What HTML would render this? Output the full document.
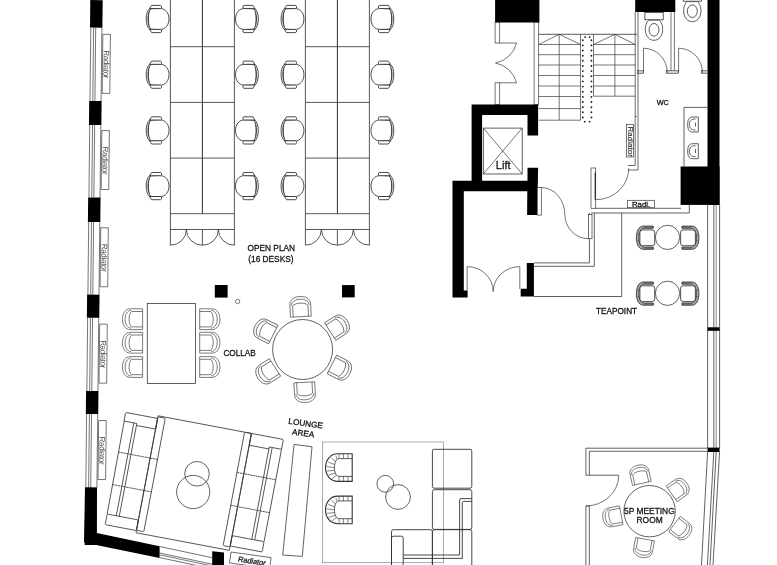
<!DOCTYPE html>
<html><head><meta charset="utf-8"><style>
html,body{margin:0;padding:0;background:#fff;width:777px;height:565px;overflow:hidden}
svg{display:block;font-family:"Liberation Sans",sans-serif;will-change:transform}
text{stroke:#1a1a1a;stroke-width:0.28;paint-order:stroke}
</style></head><body><svg width="777" height="565" viewBox="0 0 777 565" font-family="Liberation Sans, sans-serif" fill="#111">
<defs>
 <g id="c1" fill="#fff" stroke="#2a2a2a" stroke-width="0.85">
  <path d="M-7.6,-10.2 L2,-10.6 C8.5,-10.6 11.6,-5.5 11.6,0 C11.6,5.5 8.5,10.6 2,10.6 L-7.6,10.2 C-9.4,6 -9.4,-6 -7.6,-10.2 Z"/>
  <path d="M-7.6,-10.6 C-12.4,-7 -12.4,7 -7.6,10.6 L-6.6,10.2 C-10.4,6.5 -10.4,-6.5 -6.6,-10.2 Z"/>
  <path d="M-7.8,-10.4 L-5.8,-13.6 L3.2,-13.6 C4.6,-13.6 4.6,-10.4 3.2,-10.4 Z"/>
  <path d="M-7.8,10.4 L-5.8,13.6 L3.2,13.6 C4.6,13.6 4.6,10.4 3.2,10.4 Z"/>
 </g>
 <g id="c2" fill="#fff" stroke="#444" stroke-width="0.7">
  <path d="M-2.1,-10.4 L10.1,-10.4 L10.1,10.4 L-2.1,10.4 C-7.5,10.4 -10.1,5.5 -10.1,0 C-10.1,-5.5 -7.5,-10.4 -2.1,-10.4 Z"/>
  <path d="M-1.3,-9 C-5.5,-8.5 -7.4,-4.5 -7.4,0 C-7.4,4.5 -5.5,8.5 -1.3,9" fill="none"/>
  <path d="M-1,-7.7 L10.1,-7.7 M-1,7.7 L10.1,7.7 M-1,-7.7 C-2.8,-6 -3.4,-3 -3.4,0 C-3.4,3 -2.8,6 -1,7.7" fill="none"/>
 </g>
 <g id="c3" fill="#fff" stroke="#222" stroke-width="0.8">
  <path d="M7.8,-11.6 L-2,-11.6 C-7,-11.6 -9.1,-6 -9.1,0 C-9.1,6 -7,11.6 -2,11.6 L7.8,11.6 L7.8,9.4 L-1.5,9.4 C-5,9.4 -6.6,5 -6.6,0 C-6.6,-5 -5,-9.4 -1.5,-9.4 L7.8,-9.4 Z" fill="#aaa"/>
  <path d="M-2,-10.5 L7.8,-10.5 M-2,10.5 L7.8,10.5 M-8,-3 L-6.6,-3 M-8,3 L-6.6,3" fill="none" stroke-width="0.5"/>
  <rect x="-5.6" y="-7.8" width="14.8" height="15.8" rx="2.6"/>
 </g>
 <g id="tub" fill="#fff" stroke="#333" stroke-width="0.8">
  <path d="M13.3,-13.8 L-1,-13.8 C-9,-13.8 -13.4,-7 -13.4,0 C-13.4,7 -9,13.8 -1,13.8 L13.3,13.8 Z" stroke-width="1.1"/>
  <path d="M13.3,-9 L0.5,-9 C-3,-9 -4.4,-5 -4.4,0 C-4.4,5 -3,8.8 0.5,8.8 L13.3,8.8" fill="none"/>
  <path d="M0.2,-13.8 L0.2,-9 M4.5,-13.8 L4.5,-9 M9.1,-13.8 L9.1,-9 M0.2,13.8 L0.2,8.8 M4.5,13.8 L4.5,8.8 M9.1,13.8 L9.1,8.8 M-3,-11.8 L-1.8,-8.5 M-7.5,-9.5 L-3.6,-6.2 M-10.6,-5.5 L-4.2,-3 M-12.4,-1 L-4.4,0 M-12,3.5 L-4.3,2.6 M-10.4,7.5 L-3.8,5.5 M-7,11 L-2.6,7.8" fill="none" stroke-width="0.6"/>
 </g>
 <g id="sink" fill="#fff" stroke="#333" stroke-width="0.8">
  <path d="M5.3,-7.5 L0,-7.5 C-4.5,-7.5 -5.3,-4 -5.3,0 C-5.3,4 -4.5,7.5 0,7.5 L5.3,7.5 Z"/>
  <path d="M2.5,-5.5 C-2.5,-5.5 -3.6,-3 -3.6,0 C-3.6,3 -2.5,5.5 2.5,5.5 M2.5,-2 L2.5,2" fill="none"/>
 </g>
</defs>
<g transform="rotate(0.62 90.8 0)">
<rect x="90.3" y="0" width="12.40" height="27.50" fill="#000"/>
<rect x="90.3" y="101" width="12.40" height="24.00" fill="#000"/>
<rect x="90.3" y="197.5" width="12.40" height="24.50" fill="#000"/>
<rect x="90.3" y="294.6" width="12.40" height="23.10" fill="#000"/>
<rect x="90.3" y="391" width="12.40" height="23.00" fill="#000"/>
<line x1="91.1" y1="27.5" x2="91.1" y2="101" stroke="#3a3a3a" stroke-width="0.7"/>
<line x1="93.89999999999999" y1="27.5" x2="93.89999999999999" y2="101" stroke="#3a3a3a" stroke-width="0.7"/>
<line x1="96.0" y1="27.5" x2="96.0" y2="101" stroke="#3a3a3a" stroke-width="0.7"/>
<line x1="102.2" y1="27.5" x2="102.2" y2="101" stroke="#3a3a3a" stroke-width="0.7"/>
<line x1="91.1" y1="125" x2="91.1" y2="197.5" stroke="#3a3a3a" stroke-width="0.7"/>
<line x1="93.89999999999999" y1="125" x2="93.89999999999999" y2="197.5" stroke="#3a3a3a" stroke-width="0.7"/>
<line x1="96.0" y1="125" x2="96.0" y2="197.5" stroke="#3a3a3a" stroke-width="0.7"/>
<line x1="102.2" y1="125" x2="102.2" y2="197.5" stroke="#3a3a3a" stroke-width="0.7"/>
<line x1="91.1" y1="222" x2="91.1" y2="294.6" stroke="#3a3a3a" stroke-width="0.7"/>
<line x1="93.89999999999999" y1="222" x2="93.89999999999999" y2="294.6" stroke="#3a3a3a" stroke-width="0.7"/>
<line x1="96.0" y1="222" x2="96.0" y2="294.6" stroke="#3a3a3a" stroke-width="0.7"/>
<line x1="102.2" y1="222" x2="102.2" y2="294.6" stroke="#3a3a3a" stroke-width="0.7"/>
<line x1="91.1" y1="317.7" x2="91.1" y2="391" stroke="#3a3a3a" stroke-width="0.7"/>
<line x1="93.89999999999999" y1="317.7" x2="93.89999999999999" y2="391" stroke="#3a3a3a" stroke-width="0.7"/>
<line x1="96.0" y1="317.7" x2="96.0" y2="391" stroke="#3a3a3a" stroke-width="0.7"/>
<line x1="102.2" y1="317.7" x2="102.2" y2="391" stroke="#3a3a3a" stroke-width="0.7"/>
<line x1="91.1" y1="414" x2="91.1" y2="487.6" stroke="#3a3a3a" stroke-width="0.7"/>
<line x1="93.89999999999999" y1="414" x2="93.89999999999999" y2="487.6" stroke="#3a3a3a" stroke-width="0.7"/>
<line x1="96.0" y1="414" x2="96.0" y2="487.6" stroke="#3a3a3a" stroke-width="0.7"/>
<line x1="102.2" y1="414" x2="102.2" y2="487.6" stroke="#3a3a3a" stroke-width="0.7"/>
<rect x="90.6" y="487.6" width="11.70" height="57.40" fill="#000"/>
<rect x="103.2" y="34.2" width="7.60" height="59.00" fill="#fff" stroke="#3a3a3a" stroke-width="0.7" />
<text transform="translate(104.3,50.2) rotate(90)" font-size="8" letter-spacing="-0.3" fill="#444" style="stroke:none">Radiator</text>
<rect x="103.2" y="130.4" width="7.60" height="59.00" fill="#fff" stroke="#3a3a3a" stroke-width="0.7" />
<text transform="translate(104.3,146.4) rotate(90)" font-size="8" letter-spacing="-0.3" fill="#444" style="stroke:none">Radiator</text>
<rect x="103.2" y="227.6" width="7.60" height="59.00" fill="#fff" stroke="#3a3a3a" stroke-width="0.7" />
<text transform="translate(104.3,243.6) rotate(90)" font-size="8" letter-spacing="-0.3" fill="#444" style="stroke:none">Radiator</text>
<rect x="103.2" y="324" width="7.60" height="59.00" fill="#fff" stroke="#3a3a3a" stroke-width="0.7" />
<text transform="translate(104.3,340) rotate(90)" font-size="8" letter-spacing="-0.3" fill="#444" style="stroke:none">Radiator</text>
<rect x="103.2" y="420.4" width="7.60" height="59.00" fill="#fff" stroke="#3a3a3a" stroke-width="0.7" />
<text transform="translate(104.3,436.4) rotate(90)" font-size="8" letter-spacing="-0.3" fill="#444" style="stroke:none">Radiator</text>
</g>
<polygon points="85.00,487.60 96.80,487.60 96.80,533.00 159.60,546.30 159.60,558.00 84.00,542.40" fill="#000"/>
<line x1="159.6" y1="546.5" x2="212.2" y2="557.7" stroke="#3a3a3a" stroke-width="0.7"/>
<line x1="159.6" y1="553.0" x2="212.2" y2="564.2" stroke="#3a3a3a" stroke-width="0.7"/>
<line x1="159.6" y1="554.8" x2="212.2" y2="566.0" stroke="#3a3a3a" stroke-width="0.7"/>
<line x1="159.6" y1="557.5999999999999" x2="212.2" y2="568.8" stroke="#3a3a3a" stroke-width="0.7"/>
<polygon points="212.2,551.2 224,552.5 224,565 212.2,565" fill="#000"/>
<g transform="rotate(8 231 552)">
<rect x="231" y="552" width="40.50" height="11.00" fill="#fff" stroke="#3a3a3a" stroke-width="0.7" />
<text x="253" y="560.6" font-size="7.4" text-anchor="middle" transform="skewX(-8)" style="transform-box:fill-box;transform-origin:center">Radiator</text>
</g>
<line x1="170.4" y1="0" x2="170.4" y2="245.2" stroke="#3a3a3a" stroke-width="0.85"/>
<line x1="234.4" y1="0" x2="234.4" y2="245.2" stroke="#3a3a3a" stroke-width="0.85"/>
<line x1="202.4" y1="0" x2="202.4" y2="213.7" stroke="#222" stroke-width="0.95"/>
<line x1="202.4" y1="229.5" x2="202.4" y2="245.2" stroke="#3a3a3a" stroke-width="0.85"/>
<line x1="170.4" y1="46.7" x2="234.4" y2="46.7" stroke="#3a3a3a" stroke-width="0.85"/>
<line x1="170.4" y1="102.4" x2="234.4" y2="102.4" stroke="#3a3a3a" stroke-width="0.85"/>
<line x1="170.4" y1="158.1" x2="234.4" y2="158.1" stroke="#3a3a3a" stroke-width="0.85"/>
<line x1="170.4" y1="213.7" x2="234.4" y2="213.7" stroke="#3a3a3a" stroke-width="0.85"/>
<line x1="170.4" y1="229.5" x2="234.4" y2="229.5" stroke="#3a3a3a" stroke-width="0.85"/>
<path d="M170.4,245.2 A16,15.7 0 0 0 186.4,229.5 A16,15.7 0 0 0 202.4,245.2 A16,15.7 0 0 0 218.4,229.5 A16,15.7 0 0 0 234.4,245.2" fill="none" stroke="#3a3a3a" stroke-width="0.85" />
<line x1="305.4" y1="0" x2="305.4" y2="245.2" stroke="#3a3a3a" stroke-width="0.85"/>
<line x1="369.4" y1="0" x2="369.4" y2="245.2" stroke="#3a3a3a" stroke-width="0.85"/>
<line x1="337.4" y1="0" x2="337.4" y2="213.7" stroke="#222" stroke-width="0.95"/>
<line x1="337.4" y1="229.5" x2="337.4" y2="245.2" stroke="#3a3a3a" stroke-width="0.85"/>
<line x1="305.4" y1="46.7" x2="369.4" y2="46.7" stroke="#3a3a3a" stroke-width="0.85"/>
<line x1="305.4" y1="102.4" x2="369.4" y2="102.4" stroke="#3a3a3a" stroke-width="0.85"/>
<line x1="305.4" y1="158.1" x2="369.4" y2="158.1" stroke="#3a3a3a" stroke-width="0.85"/>
<line x1="305.4" y1="213.7" x2="369.4" y2="213.7" stroke="#3a3a3a" stroke-width="0.85"/>
<line x1="305.4" y1="229.5" x2="369.4" y2="229.5" stroke="#3a3a3a" stroke-width="0.85"/>
<path d="M305.4,245.2 A16,15.7 0 0 0 321.4,229.5 A16,15.7 0 0 0 337.4,245.2 A16,15.7 0 0 0 353.4,229.5 A16,15.7 0 0 0 369.4,245.2" fill="none" stroke="#3a3a3a" stroke-width="0.85" />
<use href="#c1" transform="translate(157.40,19.00)"/>
<use href="#c1" transform="translate(247.10,19.00) scale(-1,1)"/>
<use href="#c1" transform="translate(292.30,19.00)"/>
<use href="#c1" transform="translate(382.60,19.00) scale(-1,1)"/>
<use href="#c1" transform="translate(157.40,74.70)"/>
<use href="#c1" transform="translate(247.10,74.70) scale(-1,1)"/>
<use href="#c1" transform="translate(292.30,74.70)"/>
<use href="#c1" transform="translate(382.60,74.70) scale(-1,1)"/>
<use href="#c1" transform="translate(157.40,130.40)"/>
<use href="#c1" transform="translate(247.10,130.40) scale(-1,1)"/>
<use href="#c1" transform="translate(292.30,130.40)"/>
<use href="#c1" transform="translate(382.60,130.40) scale(-1,1)"/>
<use href="#c1" transform="translate(157.40,186.10)"/>
<use href="#c1" transform="translate(247.10,186.10) scale(-1,1)"/>
<use href="#c1" transform="translate(292.30,186.10)"/>
<use href="#c1" transform="translate(382.60,186.10) scale(-1,1)"/>
<text x="271.3" y="251.4" font-size="8.3" text-anchor="middle" >OPEN PLAN</text>
<text x="270.9" y="262.0" font-size="8.3" text-anchor="middle" >(16 DESKS)</text>
<rect x="214.8" y="285" width="12.80" height="12.60" fill="#000"/>
<rect x="342" y="285.1" width="12.70" height="12.30" fill="#000"/>
<circle cx="237.6" cy="301.4" r="2.2" fill="none" stroke="#444" stroke-width="0.7"/>
<rect x="147.3" y="303.4" width="48.10" height="80.00" fill="none" stroke="#3a3a3a" stroke-width="0.8" />
<use href="#c2" transform="translate(132.50,319.20)"/>
<use href="#c2" transform="translate(209.80,319.20) scale(-1,1)"/>
<use href="#c2" transform="translate(132.50,342.70)"/>
<use href="#c2" transform="translate(209.80,342.70) scale(-1,1)"/>
<use href="#c2" transform="translate(132.50,367.00)"/>
<use href="#c2" transform="translate(209.80,367.00) scale(-1,1)"/>
<text x="239.6" y="356.1" font-size="8.2" text-anchor="middle" >COLLAB</text>
<circle cx="302.6" cy="349.5" r="30" fill="none" stroke="#3a3a3a" stroke-width="0.8"/>
<use href="#c2" transform="translate(300.35,306.56) rotate(87.00)"/>
<use href="#c2" transform="translate(338.66,326.08) rotate(147.00)"/>
<use href="#c2" transform="translate(340.91,369.02) rotate(207.00)"/>
<use href="#c2" transform="translate(304.85,392.44) rotate(267.00)"/>
<use href="#c2" transform="translate(266.54,372.92) rotate(327.00)"/>
<use href="#c2" transform="translate(264.29,329.98) rotate(387.00)"/>
<g transform="translate(158.1,415.8) rotate(10.7)" fill="none" stroke="#3a3a3a" stroke-width="0.8">
<rect x="0" y="0" width="95" height="119" fill="none"/>

<path d="M-31.3,2.7 L0,2.7 L0,13.5 L-19.5,13.5 L-19.5,11.5 L-32.5,11.5 L-32.5,3.9 Q-32.5,2.7 -31.3,2.7 Z"/>
<rect x="-31.8" y="106" width="31.8" height="10.8" rx="1.2"/>
<path d="M-32.3,11.5 L-31.8,106 M-22.5,11.5 L-22.5,106 M-19.5,13.5 L-19.5,106"/>
<path d="M-32.3,43 L7.5,43 M-32,76 L7.5,76" stroke-dasharray="2.2 0.5"/>
<rect x="0" y="1" width="7.5" height="115.5" rx="1.2"/>
<path d="M95,0 L126.3,0 Q127.5,0 127.5,1.2 L127.5,10 L115,10 L115,12 L95,12 Z"/>
<rect x="95" y="104" width="32.5" height="10.5" rx="1.2"/>
<path d="M127.5,10 L127.5,104 M118,10 L118,104 M115,12 L115,104"/>
<path d="M88,41 L127.5,41 M88,74.5 L127.5,74.5" stroke-dasharray="2.2 0.5"/>
<rect x="88" y="0" width="7" height="115.5" rx="1.2"/>

</g>
<circle cx="197" cy="473.8" r="12.3" fill="none" stroke="#3a3a3a" stroke-width="0.8"/>
<circle cx="193.2" cy="492" r="16.6" fill="none" stroke="#3a3a3a" stroke-width="0.8"/>
<polygon points="294.1,444.4 312,446.8 302.3,556.4 282.7,555" fill="none" stroke="#3a3a3a" stroke-width="0.8"/>
<g transform="rotate(8 305 428)">
<text x="305" y="426.2" font-size="8.2" text-anchor="middle" >LOUNGE</text>
<text x="304" y="436.2" font-size="8.2" text-anchor="middle" >AREA</text>
</g>
<rect x="322.4" y="442" width="121.00" height="120.70" fill="none" stroke="#888" stroke-width="0.7" />
<use href="#tub" transform="translate(338.90,467.60)"/>
<use href="#tub" transform="translate(338.90,509.90)"/>
<circle cx="385.3" cy="483.8" r="8.4" fill="none" stroke="#3a3a3a" stroke-width="0.8"/>
<circle cx="398" cy="497" r="12.4" fill="none" stroke="#3a3a3a" stroke-width="0.8"/>
<g fill="none" stroke="#333" stroke-width="0.9"><rect x="432.4" y="449.3" width="39.4" height="38.9" rx="1.8"/><rect x="432.4" y="489.7" width="39.4" height="39.7" rx="1.8"/><rect x="432.4" y="529.7" width="39.4" height="45" rx="1.8"/><rect x="391.5" y="529.7" width="40.9" height="45" rx="1.8"/><rect x="391.5" y="536.2" width="11.7" height="40" rx="1.8"/><path d="M471.8,498.6 L461,498.6 Q459.6,498.6 459.6,500 L459.6,555 L403.2,555 M471.8,501.4 L463.5,501.4 Q462.3,501.4 462.3,502.6 L462.3,558.4 L403.2,558.4"/></g>
<rect x="495.1" y="0" width="44.30" height="22.50" fill="#000"/>
<rect x="495.1" y="22.5" width="4.60" height="20.50" fill="#fff" stroke="#3a3a3a" stroke-width="0.7" />
<rect x="495.1" y="82.8" width="4.60" height="21.70" fill="#fff" stroke="#3a3a3a" stroke-width="0.7" />
<rect x="534.1" y="22.5" width="4.60" height="82.00" fill="#fff" stroke="#3a3a3a" stroke-width="0.7" />
<path d="M499.7,43 L516.6,43 A27,27 0 0 1 495.5,63 A27,27 0 0 1 516.6,82.8 L499.7,82.8" fill="none" stroke="#3a3a3a" stroke-width="0.7" />
<polygon points="471.60,104.50 538.10,104.50 538.10,135.60 527.50,135.60 527.50,115.10 482.10,115.10 482.10,180.80 527.50,180.80 527.50,167.80 538.10,167.80 537.30,215.10 527.10,215.10 527.30,191.30 463.80,191.30 463.80,290.40 467.60,290.40 467.60,297.40 452.50,297.40 452.50,180.80 471.60,180.80" fill="#000"/>
<rect x="483.3" y="128.1" width="38.90" height="45.90" fill="none" stroke="#3a3a3a" stroke-width="0.8" />
<path d="M483.3,128.1 L522.2,174 M522.2,128.1 L483.3,174" fill="none" stroke="#3a3a3a" stroke-width="0.7" />
<text x="503.2" y="168.6" font-size="11" text-anchor="middle" >Lift</text>
<line x1="538.7" y1="34.3" x2="637" y2="34.3" stroke="#3a3a3a" stroke-width="0.85"/>
<line x1="538.7" y1="44.5" x2="580.5" y2="44.5" stroke="#3a3a3a" stroke-width="0.7"/>
<line x1="538.7" y1="54.7" x2="580.5" y2="54.7" stroke="#3a3a3a" stroke-width="0.7"/>
<line x1="538.7" y1="65" x2="580.5" y2="65" stroke="#3a3a3a" stroke-width="0.7"/>
<line x1="538.7" y1="75.5" x2="580.5" y2="75.5" stroke="#3a3a3a" stroke-width="0.7"/>
<line x1="538.7" y1="86" x2="580.5" y2="86" stroke="#3a3a3a" stroke-width="0.7"/>
<line x1="538.7" y1="96.5" x2="580.5" y2="96.5" stroke="#3a3a3a" stroke-width="0.7"/>
<line x1="538.7" y1="108.6" x2="580.5" y2="108.6" stroke="#3a3a3a" stroke-width="0.7"/>
<line x1="538.7" y1="120.2" x2="580.5" y2="120.2" stroke="#3a3a3a" stroke-width="0.7"/>
<line x1="580.5" y1="34.3" x2="580.5" y2="120.2" stroke="#3a3a3a" stroke-width="0.7"/>
<line x1="559.2" y1="34.3" x2="559.2" y2="120.2" stroke="#3a3a3a" stroke-width="0.7"/>
<path d="M538.7,44.5 L559.2,34.3 L580.5,44.5" fill="none" stroke="#3a3a3a" stroke-width="0.7" />
<line x1="593.5" y1="44.5" x2="635.4" y2="44.5" stroke="#3a3a3a" stroke-width="0.7"/>
<line x1="593.5" y1="54.7" x2="635.4" y2="54.7" stroke="#3a3a3a" stroke-width="0.7"/>
<line x1="593.5" y1="65" x2="635.4" y2="65" stroke="#3a3a3a" stroke-width="0.7"/>
<line x1="593.5" y1="75.5" x2="635.4" y2="75.5" stroke="#3a3a3a" stroke-width="0.7"/>
<line x1="593.5" y1="86" x2="635.4" y2="86" stroke="#3a3a3a" stroke-width="0.7"/>
<line x1="593.5" y1="96.2" x2="635.4" y2="96.2" stroke="#3a3a3a" stroke-width="0.7"/>
<line x1="593.5" y1="34.3" x2="593.5" y2="96.2" stroke="#3a3a3a" stroke-width="0.7"/>
<line x1="614.9" y1="34.3" x2="614.9" y2="96.2" stroke="#3a3a3a" stroke-width="0.7"/>
<path d="M593.5,44.5 L614.9,34.3 L635.4,44.5" fill="none" stroke="#3a3a3a" stroke-width="0.7" />
<circle cx="582.8" cy="40.2" r="0.95" fill="#222"/>
<circle cx="591.4" cy="40.2" r="0.95" fill="#222"/>
<circle cx="582.8" cy="45.4" r="0.95" fill="#222"/>
<circle cx="591.4" cy="45.4" r="0.95" fill="#222"/>
<circle cx="582.8" cy="50.5" r="0.95" fill="#222"/>
<circle cx="591.4" cy="50.5" r="0.95" fill="#222"/>
<circle cx="582.8" cy="55.7" r="0.95" fill="#222"/>
<circle cx="591.4" cy="55.7" r="0.95" fill="#222"/>
<circle cx="582.8" cy="60.8" r="0.95" fill="#222"/>
<circle cx="591.4" cy="60.8" r="0.95" fill="#222"/>
<circle cx="582.8" cy="66.0" r="0.95" fill="#222"/>
<circle cx="591.4" cy="66.0" r="0.95" fill="#222"/>
<circle cx="582.8" cy="71.1" r="0.95" fill="#222"/>
<circle cx="591.4" cy="71.1" r="0.95" fill="#222"/>
<circle cx="582.8" cy="76.2" r="0.95" fill="#222"/>
<circle cx="591.4" cy="76.2" r="0.95" fill="#222"/>
<circle cx="582.8" cy="81.4" r="0.95" fill="#222"/>
<circle cx="591.4" cy="81.4" r="0.95" fill="#222"/>
<circle cx="582.8" cy="86.6" r="0.95" fill="#222"/>
<circle cx="591.4" cy="86.6" r="0.95" fill="#222"/>
<circle cx="582.8" cy="91.7" r="0.95" fill="#222"/>
<circle cx="591.4" cy="91.7" r="0.95" fill="#222"/>
<circle cx="582.8" cy="96.9" r="0.95" fill="#222"/>
<circle cx="591.4" cy="96.9" r="0.95" fill="#222"/>
<circle cx="582.8" cy="102.0" r="0.95" fill="#222"/>
<circle cx="591.4" cy="102.0" r="0.95" fill="#222"/>
<circle cx="582.8" cy="107.2" r="0.95" fill="#222"/>
<circle cx="591.4" cy="107.2" r="0.95" fill="#222"/>
<circle cx="582.8" cy="112.3" r="0.95" fill="#222"/>
<circle cx="591.4" cy="112.3" r="0.95" fill="#222"/>
<circle cx="582.8" cy="117.5" r="0.95" fill="#222"/>
<circle cx="591.4" cy="117.5" r="0.95" fill="#222"/>
<circle cx="585.2" cy="37.1" r="0.95" fill="#222"/><circle cx="589.6" cy="37.1" r="0.95" fill="#222"/><circle cx="584.7" cy="121.6" r="0.95" fill="#222"/><circle cx="589.6" cy="121.6" r="0.95" fill="#222"/>
<rect x="635.2" y="0" width="40.10" height="12.00" fill="#000"/>
<rect x="707.5" y="0" width="12.00" height="204.90" fill="#000"/>
<rect x="680.6" y="166.5" width="38.90" height="38.40" fill="#000"/>
<g id="wc1" fill="#fff" stroke="#333" stroke-width="0.8"><rect x="644.9" y="12.4" width="18.3" height="7.4"/><path d="M648.6,20.2 L659.4,20.2 C662.6,24 662.8,27.5 662.6,30.5 C662.3,36.5 658.5,40.3 654,40.3 C649.5,40.3 645.7,36.5 645.4,30.5 C645.2,27.5 645.4,24 648.6,20.2 Z"/><ellipse cx="654" cy="29.8" rx="5" ry="6.3" fill="none"/></g>
<use href="#wc1" transform="translate(38.3,-18.6)"/>
<line x1="671" y1="12" x2="671" y2="72.8" stroke="#3a3a3a" stroke-width="0.7"/>
<line x1="674.4" y1="12" x2="674.4" y2="72.8" stroke="#3a3a3a" stroke-width="0.7"/>
<g fill="#ccc" stroke="#444" stroke-width="0.6"><rect x="637.6" y="70.6" width="5.9" height="2.8"/><rect x="666.2" y="70.6" width="12.4" height="2.8"/><rect x="701.6" y="70.6" width="5.9" height="2.8"/></g>
<path d="M643.5,72.8 L643.5,48.2 A23.8,24.6 0 0 1 667.3,72.8" fill="none" stroke="#3a3a3a" stroke-width="0.7" />
<path d="M678.6,72.8 L678.6,48.2 A23.9,24.6 0 0 1 702.5,72.8" fill="none" stroke="#3a3a3a" stroke-width="0.7" />
<text x="662.8" y="105.1" font-size="7.3" text-anchor="middle" >WC</text>
<path d="M707.5,107.4 L684,107.4 L684,166.5" fill="none" stroke="#3a3a3a" stroke-width="0.8" />
<use href="#sink" transform="translate(693.00,124.50)"/>
<use href="#sink" transform="translate(693.00,151.20)"/>
<rect x="626.5" y="124.6" width="7.10" height="32.40" fill="#fff" stroke="#3a3a3a" stroke-width="0.7" />
<text transform="translate(627.8,126.6) rotate(90)" font-size="7.9" letter-spacing="0.05" fill="#333" style="stroke-width:0.15">Radiator</text>
<path d="M638,12 L638,170 L627.9,170 M635.2,12 L635.2,165.5 L627.9,165.5 M635.2,116.4 L637,116.4" fill="none" stroke="#3a3a3a" stroke-width="0.75" />
<rect x="591" y="168" width="4.70" height="40.30" fill="#fff" stroke="#3a3a3a" stroke-width="0.7" />
<line x1="595.2" y1="172.4" x2="595.2" y2="199.7" stroke="#111" stroke-width="1.0"/>
<path d="M595.7,199.7 A33,31.5 0 0 0 628.8,168.2" fill="none" stroke="#3a3a3a" stroke-width="0.7" />
<line x1="595.7" y1="208.3" x2="680.9" y2="208.3" stroke="#3a3a3a" stroke-width="0.8"/>
<line x1="591" y1="213" x2="689.3" y2="213" stroke="#3a3a3a" stroke-width="0.8"/>
<line x1="689.3" y1="204.9" x2="689.3" y2="213" stroke="#3a3a3a" stroke-width="0.8"/>
<rect x="627.6" y="200.3" width="27.00" height="7.40" fill="#fff" stroke="#3a3a3a" stroke-width="0.7" />
<text x="641.1" y="206.9" font-size="7.8" text-anchor="middle" >Radi.</text>
<line x1="589.4" y1="213" x2="589.4" y2="262.9" stroke="#3a3a3a" stroke-width="0.8"/>
<line x1="594.3" y1="213" x2="594.3" y2="266.3" stroke="#3a3a3a" stroke-width="0.8"/>
<line x1="534.2" y1="262.9" x2="589.4" y2="262.9" stroke="#3a3a3a" stroke-width="0.8"/>
<line x1="534.2" y1="266.3" x2="594.3" y2="266.3" stroke="#3a3a3a" stroke-width="0.8"/>
<line x1="621.7" y1="213" x2="621.7" y2="296.5" stroke="#3a3a3a" stroke-width="0.8"/>
<line x1="534" y1="296.5" x2="621.7" y2="296.5" stroke="#3a3a3a" stroke-width="0.8"/>
<polygon points="526.80,262.90 533.90,262.90 533.90,296.50 520.70,296.50 520.70,288.70 526.80,288.70" fill="#000"/>
<rect x="537.3" y="187.5" width="4.00" height="27.60" fill="#fff" stroke="#3a3a3a" stroke-width="0.7" />
<path d="M541.3,187.5 A23.6,27.5 0 0 1 564.9,214.8 A23.6,24 0 0 0 588.5,238.7" fill="none" stroke="#3a3a3a" stroke-width="0.7" />
<rect x="588.5" y="214.5" width="3.50" height="24.20" fill="#fff" stroke="#3a3a3a" stroke-width="0.7" />
<path d="M467.1,290.4 L467.1,266.6 A26,25 0 0 1 493.2,291.7 A26.6,25 0 0 1 519.8,266.6 L519.8,289" fill="none" stroke="#3a3a3a" stroke-width="0.7" />
<circle cx="667.5" cy="237.4" r="12.1" fill="none" stroke="#3a3a3a" stroke-width="0.8"/>
<use href="#c3" transform="translate(645.50,237.70)"/>
<use href="#c3" transform="translate(689.80,237.70) scale(-1,1)"/>
<circle cx="667.5" cy="293.3" r="12.1" fill="none" stroke="#3a3a3a" stroke-width="0.8"/>
<use href="#c3" transform="translate(645.50,293.60)"/>
<use href="#c3" transform="translate(689.80,293.60) scale(-1,1)"/>
<text x="616.6" y="313.9" font-size="8.2" text-anchor="middle" >TEAPOINT</text>
<line x1="707.6" y1="204.9" x2="707.6" y2="448.2" stroke="#3a3a3a" stroke-width="0.8"/>
<line x1="713.8" y1="204.9" x2="713.8" y2="448.2" stroke="#3a3a3a" stroke-width="0.8"/>
<line x1="716.2" y1="204.9" x2="716.2" y2="448.2" stroke="#3a3a3a" stroke-width="0.6"/>
<line x1="719.6" y1="204.9" x2="719.6" y2="448.2" stroke="#3a3a3a" stroke-width="0.8"/>
<rect x="707.6" y="327.3" width="12.00" height="3.50" fill="#000"/>
<rect x="707.5" y="447.6" width="12.10" height="4.40" fill="#000"/>
<line x1="707.6" y1="451.5" x2="701.5" y2="565" stroke="#3a3a3a" stroke-width="0.8"/>
<line x1="713.8" y1="451.5" x2="707.4" y2="565" stroke="#3a3a3a" stroke-width="0.8"/>
<line x1="716.2" y1="451.5" x2="710" y2="565" stroke="#3a3a3a" stroke-width="0.8"/>
<line x1="719.6" y1="451.5" x2="713" y2="565" stroke="#3a3a3a" stroke-width="0.8"/>
<line x1="585.9" y1="448.2" x2="707.5" y2="448.2" stroke="#3a3a3a" stroke-width="0.8"/>
<line x1="589.3" y1="451.3" x2="707.5" y2="451.3" stroke="#3a3a3a" stroke-width="0.8"/>
<line x1="585.9" y1="448.2" x2="585.9" y2="475.2" stroke="#3a3a3a" stroke-width="0.8"/>
<line x1="589.3" y1="451.3" x2="589.3" y2="475.2" stroke="#3a3a3a" stroke-width="0.8"/>
<line x1="585.9" y1="475.2" x2="618.8" y2="475.2" stroke="#3a3a3a" stroke-width="0.8"/>
<path d="M618.8,475.2 A33,31 0 0 1 585.9,506" fill="none" stroke="#3a3a3a" stroke-width="0.7" />
<line x1="585.9" y1="506" x2="589.3" y2="506" stroke="#3a3a3a" stroke-width="0.8"/>
<line x1="585.9" y1="506" x2="585.9" y2="565" stroke="#3a3a3a" stroke-width="0.8"/>
<line x1="589.3" y1="506" x2="589.3" y2="565" stroke="#3a3a3a" stroke-width="0.8"/>
<circle cx="649.6" cy="511.2" r="25.7" fill="none" stroke="#3a3a3a" stroke-width="0.8"/>
<use href="#c2" transform="translate(639.8,474.3) rotate(77.2) scale(0.92)"/>
<use href="#c2" transform="translate(679.2,488.5) rotate(144.8) scale(0.92)"/>
<use href="#c2" transform="translate(681.8,529.6) rotate(217.4) scale(0.92)"/>
<use href="#c2" transform="translate(643.4,548.3) rotate(280.3) scale(0.92)"/>
<use href="#c2" transform="translate(612.1,517) rotate(349.2) scale(0.92)"/>
<text x="649.4" y="513.7" font-size="8.4" text-anchor="middle" >5P MEETING</text>
<text x="649.6" y="523.2" font-size="8.4" text-anchor="middle" >ROOM</text></svg></body></html>
